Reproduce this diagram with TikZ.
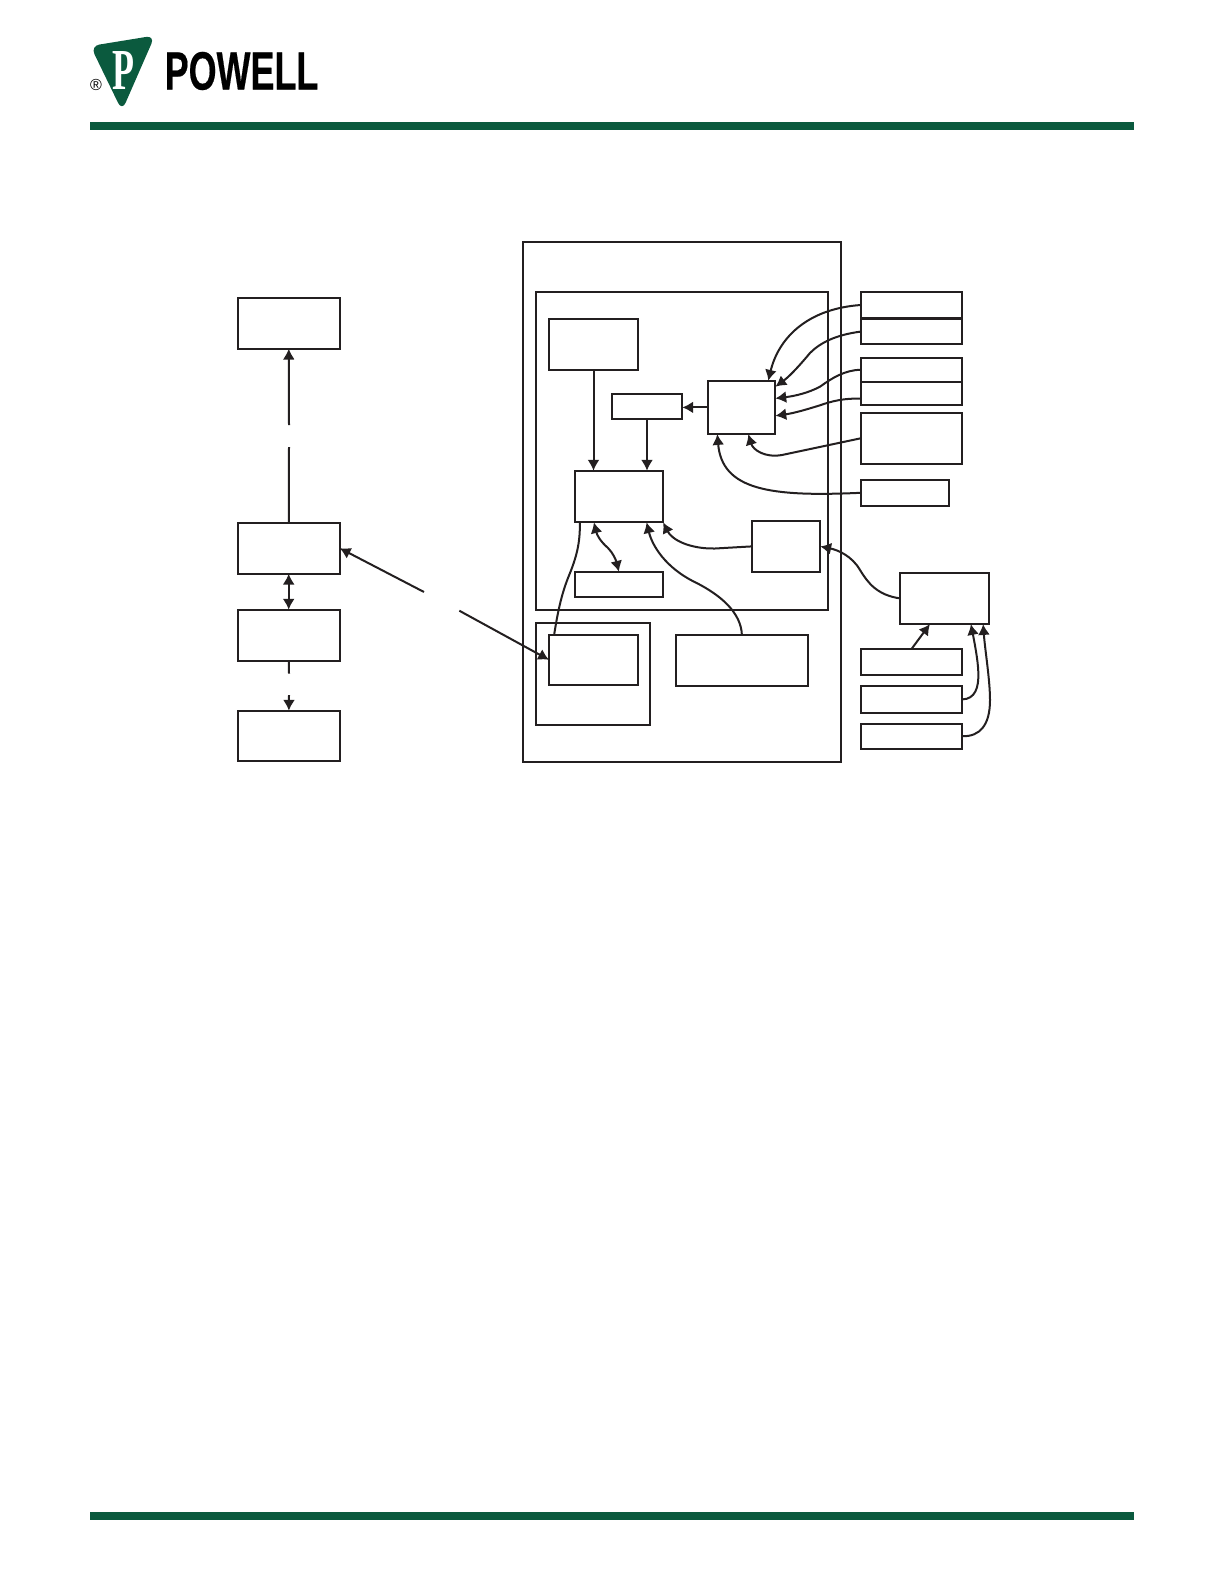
\documentclass[tikz,border=0pt]{standalone}
\usepackage{fontspec}
\usepackage{xcolor}
\usepackage{tikz}
\setmainfont{Liberation Sans}
\newfontfamily\logoserif{Liberation Serif}
\newfontfamily\logosans[FakeBold=0.5]{Liberation Sans}
\usetikzlibrary{positioning, arrows.meta}
\definecolor{pgreen}{HTML}{0B5A3E}
\definecolor{pline}{HTML}{231F20}

\begin{document}
\begin{tikzpicture}[x=0.5pt, y=-0.5pt, >={Latex[length=1.9mm, width=2.1mm]},
  line width=1pt, color=pline,
  base/.style={draw, outer sep=0pt, inner sep=0pt},
  lbox/.style={base, minimum width=51pt, minimum height=25.5pt},
  rbox/.style={base, minimum width=50.8pt, minimum height=12.8pt},
  cbox/.style={base, minimum width=44.5pt, minimum height=25.5pt}]
  \useasboundingbox (0,0) rectangle (1224,1584);
  % header and footer
  \fill[pgreen] (90,122) rectangle (1134,130);
  \fill[pgreen] (90,1512) rectangle (1134,1520);
  \fill[pgreen, rounded corners=4.5pt] (90.5,46) -- (155,35.5) -- (122,111) -- cycle;
  \node[text=white, xscale=0.62, font=\logoserif\bfseries\fontsize{29}{29}\selectfont] (logop) at (123,71) {P};
  \node[text=black, font=\fontsize{8}{8}\selectfont] (logor) at (96,85) {®};
  \node[text=black, xscale=0.665, font=\logosans\bfseries\fontsize{27}{27}\selectfont] (logow) at (241.5,71) {POWELL};
  % left column
  \node[lbox, anchor=north west] (lefta) at (237.7,297.7) {};
  \node[lbox, below=87pt of lefta] (leftb) {};
  \node[lbox, below=18pt of leftb] (leftc) {};
  \node[lbox, minimum height=25.2pt, below=25pt of leftc] (leftd) {};
  % enclosure and panels
  \node[base, minimum width=159pt, minimum height=259.7pt, anchor=north west] (outer) at (522.7,242.2) {};
  \node[base, minimum width=146pt, minimum height=158.8pt, anchor=north west] (panel) at (536,292) {};
  \node[base, minimum width=57.2pt, minimum height=51pt, anchor=north west] (lower) at (536,623) {};
  % inside the panel
  \node[cbox, anchor=north west] (ctl) at (549,319) {};
  \node[base, minimum width=35.3pt, minimum height=12.7pt, anchor=north west] (tiny) at (611.7,393.7) {};
  \node[base, minimum width=33.7pt, minimum height=26.7pt, anchor=north west] (mid) at (708,380.7) {};
  \node[cbox, minimum width=44.2pt, minimum height=25.8pt, anchor=north west] (cpu) at (574.7,470.7) {};
  \node[cbox, minimum width=44.2pt, minimum height=12.7pt, below=24.7pt of cpu] (cpulow) {};
  \node[base, minimum width=34.3pt, minimum height=25.7pt, anchor=north west] (port) at (751.7,520.7) {};
  % lower part of the enclosure
  \node[cbox, minimum height=24.8pt, anchor=north west] (inner) at (549,635) {};
  \node[base, minimum width=66.2pt, minimum height=25.3pt, anchor=north west] (wide) at (675.7,635) {};
  % right column
  \node[rbox, minimum height=13pt, anchor=north west] (ra) at (860.7,292) {};
  \node[rbox, below=0.4pt of ra] (rb) {};
  \node[rbox, minimum height=11.8pt, anchor=north west] (rc) at (860.7,358) {};
  \node[rbox, minimum height=11.7pt, below=0pt of rc] (rd) {};
  \node[rbox, minimum height=25.3pt, below=4pt of rd] (re) {};
  \node[rbox, minimum width=44.3pt, anchor=north west] (rf) at (860.7,480) {};
  \node[cbox, minimum height=25.7pt, anchor=north west] (big) at (900,572.7) {};
  \node[rbox, anchor=north west] (rg) at (860.7,649) {};
  \node[rbox, minimum height=13.2pt, below=5.8pt of rg] (rh) {};
  \node[rbox, minimum height=12.4pt, below=5.6pt of rh] (ri) {};
  % free ends of the broken lines
  \coordinate (gapa) at (289,425);
  \coordinate (gapb) at (289,447);
  \coordinate (gapc) at (289,673.7);
  \coordinate (gapd) at (289,695);
  \coordinate (gape) at (424,592);
  \coordinate (gapf) at (459.3,610.7);
  % left edges
  \draw[->] (gapa) -- (lefta);
  \draw (leftb) -- (gapb);
  \draw[<->] (leftb) -- (leftc);
  \draw (leftc) -- (gapc);
  \draw[->] (gapd) -- (leftd);
  \draw[->] (gape) -- (leftb.east);
  \draw[->] (gapf) -- (inner.west);
  % straight edges in the panel
  \draw[->] (ctl.south) -- (ctl.south |- cpu.north);
  \draw[->] (tiny.south) -- (tiny.south |- cpu.north);
  \draw[->] (mid.west) -- (mid.west -| tiny.east);
  \draw[->] (rg.north) -- ([xshift=-7.3pt]big.south);
  % curved edges into mid
  \draw[->] (ra.west) .. controls (805,309) and (778,340) .. ([xshift=13.3pt]mid.north);
  \draw[->] (rb.west) .. controls (835,335) and (820,343) .. (810,353) .. controls (800,365) and (790,376) .. ([yshift=-3pt]mid.north east);
  \draw[->] (rc.west) .. controls (845,370) and (832,378) .. (820,386.7) .. controls (808,393) and (795,396) .. ([yshift=4.5pt]mid.east);
  \draw[->] ([yshift=-2.7pt]rd.west) .. controls (845,398) and (832,401) .. (820,405.3) .. controls (808,409) and (795,413) .. ([yshift=-4.2pt]mid.east);
  \draw[->] (re.west) -- (782,455) .. controls (765,458) and (753,450) .. ([xshift=3.3pt]mid.south);
  \draw[->] (rf.west) .. controls (770,497) and (722,490) .. ([xshift=-12.2pt]mid.south);
  % curved edges around cpu
  \draw ([xshift=-19.5pt]cpu.south) .. controls (580,540) and (578,553) .. (570,573) .. controls (562,592) and (558,610) .. ([xshift=-19.7pt]inner.north);
  \draw[<->] ([xshift=-12.5pt]cpu.south) .. controls (597,535) and (600,541) .. (608,548) .. controls (613,553) and (616,560) .. (cpulow.north);
  \draw[->] (wide.north) .. controls (741,612) and (720,595) .. (696.7,583) .. controls (665,568) and (652,545) .. ([xshift=13.85pt]cpu.south);
  \draw[->] (port.west) -- (715,548.5) .. controls (690,549) and (672,540) .. (cpu.south east);
  % curved edges on the right
  \draw[->] (big.west) .. controls (877,595) and (868,583) .. (860,570) .. controls (852,556) and (838,550) .. (port.east);
  \draw[->] (rh.east) .. controls (975,699) and (979,688) .. (978.3,672) .. controls (978,660) and (974,640) .. ([xshift=13.2pt]big.south);
  \draw[->] (ri.east) .. controls (980,736.7) and (990,725) .. (990,700) .. controls (990,680) and (985,650) .. ([xshift=19.3pt]big.south);
\end{tikzpicture}
\end{document}
